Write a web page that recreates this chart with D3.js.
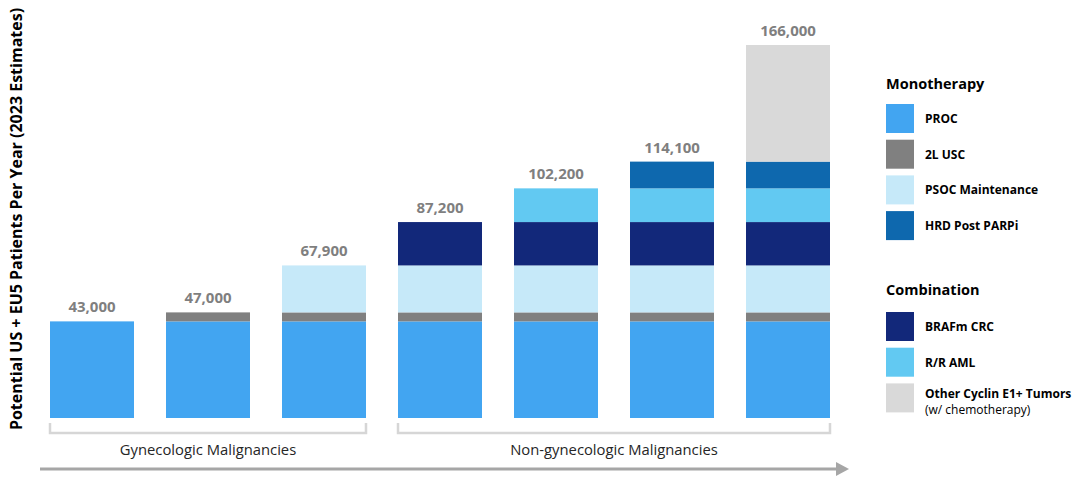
<!DOCTYPE html>
<html>
<head>
<meta charset="utf-8">
<script src="https://cdn.jsdelivr.net/npm/d3@7"></script>
<style>
  html, body { margin: 0; padding: 0; background: #fff; }
  svg { display: block; font-family: "Open Sans", "Noto Sans", sans-serif; }
</style>
</head>
<body>
<svg id="chart" width="1086" height="481"></svg>
<script>
// Bars (left to right) and their stacked totals
const bars = ["b1", "b2", "b3", "b4", "b5", "b6", "b7"];
const totals = [43000, 47000, 67900, 87200, 102200, 114100, 166000];

// Stack layers, bottom to top
const series = ["PROC", "2L USC", "PSOC Maintenance", "BRAFm CRC", "R/R AML", "HRD Post PARPi", "Other"];
const proc   = [43000, 43000, 43000, 43000, 43000, 43000, 43000];
const usc    = [0, 4000, 4000, 4000, 4000, 4000, 4000];
const psoc   = [0, 0, 20900, 20900, 20900, 20900, 20900];
const braf   = [0, 0, 0, 19300, 19300, 19300, 19300];
const aml    = [0, 0, 0, 0, 15000, 15000, 15000];
const hrd    = [0, 0, 0, 0, 0, 11900, 11900];
const other  = [0, 0, 0, 0, 0, 0, 51900];
const seriesValues = [proc, usc, psoc, braf, aml, hrd, other];
const colors = ["#42a5f1", "#808080", "#c6e9f9", "#12287a", "#62c9f2", "#0e68ae", "#d9d9d9"];

// Groups along the x axis
const groups = [
  { name: "Gynecologic Malignancies", from: "b1", to: "b3" },
  { name: "Non-gynecologic Malignancies", from: "b4", to: "b7" }
];

// Legend sections
const legendSections = [
  { title: "Monotherapy", items: ["PROC", "2L USC", "PSOC Maintenance", "HRD Post PARPi"] },
  { title: "Combination", items: ["BRAFm CRC", "R/R AML", "Other"] }
];
const legendLabels = {
  "PROC": ["PROC"], "2L USC": ["2L USC"], "PSOC Maintenance": ["PSOC Maintenance"],
  "HRD Post PARPi": ["HRD Post PARPi"], "BRAFm CRC": ["BRAFm CRC"], "R/R AML": ["R/R AML"],
  "Other": ["Other Cyclin E1+ Tumors", "(w/ chemotherapy)"]
};

const yTitle = "Potential US + EU5 Patients Per Year (2023 Estimates)";

const svg = d3.select("#chart");

const x = d3.scaleBand().domain(bars).range([34, 846]).paddingInner(0.276).paddingOuter(0.138);
const y = d3.scaleLinear().domain([0, 166000]).range([418, 45]);
const color = d3.scaleOrdinal().domain(series).range(colors);

// Build stack input
const table = bars.map((b, i) => {
  const row = { bar: b };
  series.forEach((s, j) => { row[s] = seriesValues[j][i]; });
  return row;
});
const stacked = d3.stack().keys(series)(table);

const g = svg.append("g");
stacked.forEach(layer => {
  g.selectAll(null)
    .data(layer.filter(d => d[1] > d[0]))
    .join("rect")
    .attr("x", d => x(d.data.bar))
    .attr("width", x.bandwidth())
    .attr("y", d => y(d[1]))
    .attr("height", d => y(d[0]) - y(d[1]))
    .attr("fill", color(layer.key));
});

// Totals above bars
svg.selectAll(".total")
  .data(bars)
  .join("text")
  .attr("x", d => x(d) + x.bandwidth() / 2)
  .attr("y", (d, i) => y(totals[i]) - 9)
  .attr("text-anchor", "middle")
  .attr("font-size", 15)
  .attr("font-weight", 700)
  .attr("fill", "#7f7f7f")
  .text((d, i) => d3.format(",")(totals[i]));

// Group brackets and names
groups.forEach(gr => {
  const x0 = x(gr.from), x1 = x(gr.to) + x.bandwidth();
  svg.append("path")
    .attr("d", `M${x0},423 V433 H${x1} V423`)
    .attr("fill", "none")
    .attr("stroke", "#d6d6d6")
    .attr("stroke-width", 2.5);
  svg.append("text")
    .attr("x", (x0 + x1) / 2)
    .attr("y", 455)
    .attr("text-anchor", "middle")
    .attr("font-size", 14.8)
    .attr("fill", "#262626")
    .text(gr.name);
});

// Progression arrow
svg.append("line")
  .attr("x1", 40).attr("x2", 838)
  .attr("y1", 469).attr("y2", 469)
  .attr("stroke", "#a6a6a6")
  .attr("stroke-width", 3);
svg.append("path")
  .attr("d", "M836,462 L849,469 L836,476 Z")
  .attr("fill", "#a6a6a6");

// Y axis title
svg.append("text")
  .attr("transform", "translate(22,219) rotate(-90)")
  .attr("text-anchor", "middle")
  .attr("font-size", 16)
  .attr("font-weight", 700)
  .attr("fill", "#000")
  .text(yTitle);

// Legend
const legend = svg.append("g");
const titleY = [89, 295];
const firstSwatch = [104, 312];
legendSections.forEach((sec, si) => {
  legend.append("text")
    .attr("x", 886)
    .attr("y", titleY[si])
    .attr("font-size", 14.5)
    .attr("font-weight", 700)
    .attr("fill", "#000")
    .text(sec.title);
  sec.items.forEach((it, k) => {
    const top = firstSwatch[si] + k * 35.7;
    legend.append("rect")
      .attr("x", 886).attr("y", top)
      .attr("width", 28).attr("height", 29)
      .attr("fill", color(it));
    const lines = legendLabels[it];
    lines.forEach((ln, li) => {
      legend.append("text")
        .attr("x", 925)
        .attr("y", top + 19 + li * 16 - (lines.length > 1 ? 4 : 0))
        .attr("font-size", 12)
        .attr("font-weight", li === 0 ? 700 : 400)
        .attr("fill", "#000")
        .text(ln);
    });
  });
});
</script>
</body>
</html>
